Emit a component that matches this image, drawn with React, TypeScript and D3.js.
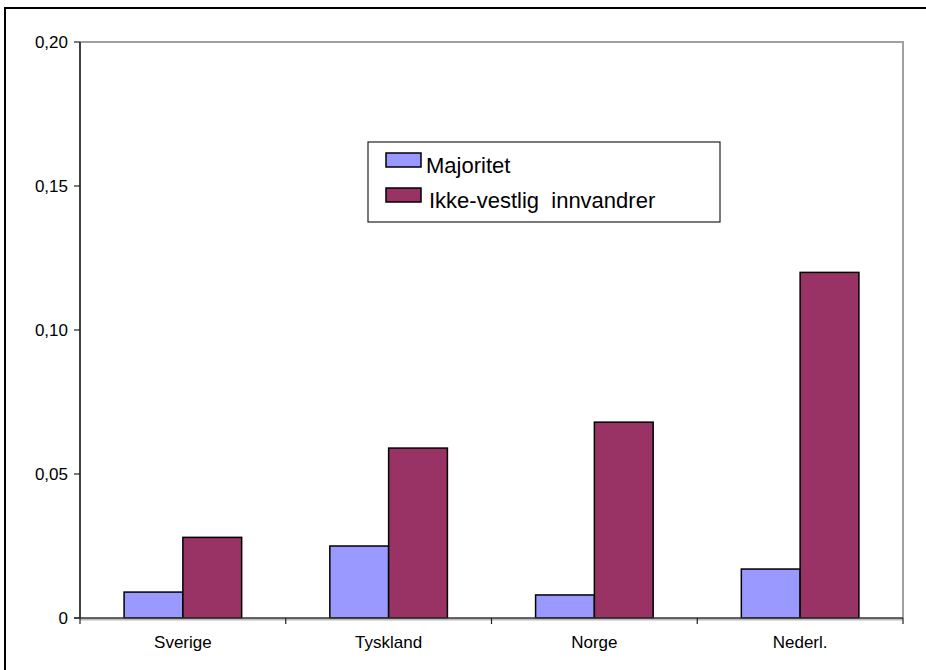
import { useEffect, useRef } from 'react';
import * as d3 from 'd3';

const categories = ['Sverige', 'Tyskland', 'Norge', 'Nederl.'];
const seriesNames = ['Majoritet', 'Ikke-vestlig  innvandrer'];
const majoritet = [0.009, 0.025, 0.008, 0.017];
const innvandrer = [0.028, 0.059, 0.068, 0.12];
const yTicks = [0, 0.05, 0.1, 0.15, 0.2];
const yTickLabels = ['0', '0,05', '0,10', '0,15', '0,20'];
const colors = ['#9999FF', '#993366'];

const W = 926;
const H = 670;

export default function App() {
  const svgRef = useRef<SVGSVGElement>(null);

  useEffect(() => {
    if (!svgRef.current) return;
    const svg = d3.select(svgRef.current);
    svg.selectAll('*').remove();

    const left = 80, right = 903, top = 42, bottom = 618;
    const font = "'Liberation Sans', Arial, sans-serif";

    // outer frame (runs past the right and bottom edges)
    svg.append('rect')
      .attr('x', 5).attr('y', 8)
      .attr('width', W + 20).attr('height', H + 20)
      .attr('fill', 'white')
      .attr('stroke', '#000').attr('stroke-width', 2);

    const x = d3.scaleBand<string>().domain(categories).range([left, right]).padding(0);
    const y = d3.scaleLinear().domain([0, 0.2]).range([bottom, top]);

    // plot area border (top + right, grey)
    svg.append('path')
      .attr('d', `M${left},${top}H${right}V${bottom}`)
      .attr('fill', 'none')
      .attr('stroke', '#a0a0a0').attr('stroke-width', 2);

    // bars
    const bw = x.bandwidth() / 3.5;
    const offset = (x.bandwidth() - 2 * bw) / 2;
    const series = [majoritet, innvandrer];
    series.forEach((vals, si) => {
      svg.append('g').selectAll('rect')
        .data(vals)
        .join('rect')
        .attr('x', (_d, i) => (x(categories[i]) as number) + offset + si * bw)
        .attr('y', (d) => y(d))
        .attr('width', bw)
        .attr('height', (d) => bottom - y(d))
        .attr('fill', colors[si])
        .attr('stroke', '#000')
        .attr('stroke-width', 1.5);
    });

    // y axis
    svg.append('line')
      .attr('x1', left).attr('x2', left).attr('y1', top).attr('y2', bottom)
      .attr('stroke', '#404040').attr('stroke-width', 2);
    const yt = svg.append('g');
    yt.selectAll('line')
      .data(yTicks)
      .join('line')
      .attr('x1', left - 6).attr('x2', left)
      .attr('y1', (d) => y(d)).attr('y2', (d) => y(d))
      .attr('stroke', '#222').attr('stroke-width', 1.2);
    yt.selectAll('text')
      .data(yTicks)
      .join('text')
      .attr('x', 68)
      .attr('y', (d) => y(d) + 6)
      .attr('text-anchor', 'end')
      .attr('font-family', font)
      .attr('font-size', 17)
      .attr('fill', '#000')
      .text((_d, i) => yTickLabels[i]);

    // x axis
    svg.append('line')
      .attr('x1', left).attr('x2', right).attr('y1', bottom + 1.5).attr('y2', bottom + 1.5)
      .attr('stroke', '#bbb').attr('stroke-width', 2);
    svg.append('line')
      .attr('x1', left - 6).attr('x2', right).attr('y1', bottom).attr('y2', bottom)
      .attr('stroke', '#333').attr('stroke-width', 1.5);
    const xTickPos = categories.map((c) => x(c) as number).concat([right]);
    svg.append('g').selectAll('line')
      .data(xTickPos)
      .join('line')
      .attr('x1', (d) => d).attr('x2', (d) => d)
      .attr('y1', bottom).attr('y2', bottom + 6)
      .attr('stroke', '#222').attr('stroke-width', 1.2);
    svg.append('g').selectAll('text')
      .data(categories)
      .join('text')
      .attr('x', (d) => (x(d) as number) + x.bandwidth() / 2)
      .attr('y', 648)
      .attr('text-anchor', 'middle')
      .attr('font-family', font)
      .attr('font-size', 17)
      .attr('fill', '#000')
      .text((d) => d);

    // legend
    const lg = svg.append('g');
    lg.append('rect')
      .attr('x', 368).attr('y', 142)
      .attr('width', 352).attr('height', 80)
      .attr('fill', 'white')
      .attr('stroke', '#222').attr('stroke-width', 1.2);
    seriesNames.forEach((name, i) => {
      const yy = 153 + i * 35;
      lg.append('rect')
        .attr('x', 386).attr('y', yy)
        .attr('width', 35).attr('height', 14)
        .attr('fill', colors[i])
        .attr('stroke', '#000').attr('stroke-width', 1.5);
      lg.append('text')
        .attr('x', i === 0 ? 426 : 429)
        .attr('y', yy + 20)
        .attr('font-family', font)
        .attr('font-size', 22)
        .attr('fill', '#000')
        .style('white-space', 'pre')
        .text(name);
    });
  }, []);

  return (
    <svg
      ref={svgRef}
      width={W}
      height={H}
      style={{ position: 'absolute', left: 0, top: 0, display: 'block' }}
    />
  );
}
